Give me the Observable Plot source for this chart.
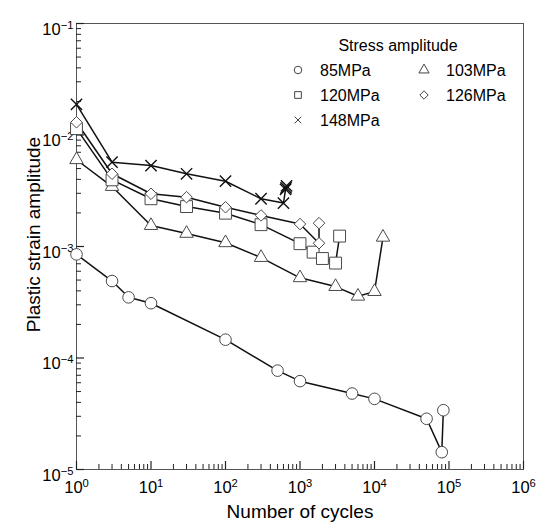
<!DOCTYPE html>
<html>
<head>
<meta charset="utf-8">
<script src="https://cdn.jsdelivr.net/npm/d3@7"></script>
<script src="https://cdn.jsdelivr.net/npm/@observablehq/plot@0.6"></script>
<style>
  html, body { margin: 0; padding: 0; background: #fff; }
  #chart { width: 538px; height: 522px; }
  svg { font-family: "Liberation Sans", Arial, Helvetica, sans-serif; }
</style>
</head>
<body>
<div id="chart"></div>
<script>
// ---- data ----
const cyc85  = [1, 3, 5, 10, 100, 500, 1000, 5000, 10000, 50000, 80000, 84000];
const eps85  = [8.5e-4, 4.9e-4, 3.5e-4, 3.1e-4, 1.46e-4, 7.7e-5, 6.2e-5, 4.8e-5, 4.3e-5, 2.85e-5, 1.43e-5, 3.4e-5];
const cyc103 = [1, 3, 10, 30, 100, 300, 1000, 3000, 6000, 10000, 13000];
const eps103 = [6.0e-3, 3.45e-3, 1.54e-3, 1.31e-3, 1.08e-3, 7.96e-4, 5.24e-4, 4.37e-4, 3.58e-4, 3.94e-4, 1.21e-3];
const cyc120 = [1, 3, 10, 30, 100, 300, 1000, 1500, 2000, 3000, 3400];
const eps120 = [1.14e-2, 3.96e-3, 2.68e-3, 2.28e-3, 1.99e-3, 1.57e-3, 1.06e-3, 8.9e-4, 7.8e-4, 7.1e-4, 1.24e-3];
const cyc126 = [1, 3, 10, 30, 100, 300, 1000, 1800, 1800];
const eps126 = [1.3e-2, 4.49e-3, 2.97e-3, 2.77e-3, 2.25e-3, 1.90e-3, 1.59e-3, 1.07e-3, 1.62e-3];
const cyc148 = [1, 3, 10, 30, 100, 300, 600, 640, 660, 650];
const eps148 = [1.88e-2, 5.7e-3, 5.32e-3, 4.49e-3, 3.85e-3, 2.68e-3, 2.45e-3, 3.25e-3, 3.5e-3, 3.35e-3];

const seriesNames = ["85MPa", "103MPa", "120MPa", "126MPa", "148MPa"];
const xMajor = [1, 10, 100, 1000, 10000, 100000, 1000000];
const yMajor = [1e-5, 1e-4, 1e-3, 1e-2, 1e-1];

const minorOf = (majors) => majors.slice(0, -1).flatMap(m => [2,3,4,5,6,7,8,9].map(k => k * m));
const xMinor = minorOf(xMajor);
const yMinor = minorOf(yMajor);

const toRows = (c, e) => c.map((v, i) => ({c: v, e: e[i]}));
const s85 = toRows(cyc85, eps85), s103 = toRows(cyc103, eps103), s120 = toRows(cyc120, eps120),
      s126 = toRows(cyc126, eps126), s148 = toRows(cyc148, eps148);

const W = 538, H = 522, mT = 23, mR = 15, mB = 53, mL = 76;
const fw = W - mL - mR, fh = H - mT - mB;

const fmt = d => "10^" + Math.round(Math.log10(d));
const lineOpt = {x: "c", y: "e", stroke: "#111", strokeWidth: 1.5};
const dotOpt = {x: "c", y: "e", fill: "white", stroke: "#4a4a4a", strokeWidth: 1};
const tickCol = "#222";

const chart = Plot.plot({
  width: W,
  height: H,
  marginTop: mT,
  marginRight: mR,
  marginBottom: mB,
  marginLeft: mL,
  style: {fontFamily: "Liberation Sans, Arial, sans-serif", background: "white", color: "black"},
  x: {type: "log", domain: [1, 1e6]},
  y: {type: "log", domain: [1e-5, 1e-1]},
  marks: [
    Plot.frame({stroke: "#555", strokeWidth: 1}),
    // inward ticks along the bottom and left edges of the frame
    Plot.tickX(xMinor, {x: d => d, insetTop: fh - 5, stroke: tickCol, strokeWidth: 1}),
    Plot.tickX(xMajor, {x: d => d, insetTop: fh - 8, stroke: tickCol, strokeWidth: 1.2}),
    Plot.tickY(yMinor, {y: d => d, insetRight: fw - 5, stroke: tickCol, strokeWidth: 1}),
    Plot.tickY(yMajor, {y: d => d, insetRight: fw - 8, stroke: tickCol, strokeWidth: 1.2}),
    Plot.axisX(xMajor, {tickSize: 0, tickPadding: 12, tickFormat: fmt, fontSize: 16.5,
      label: "Number of cycles", labelAnchor: "center", labelOffset: 48, labelArrow: "none"}),
    Plot.axisY(yMajor, {tickSize: 0, tickPadding: 3, tickFormat: fmt, fontSize: 16.5, dy: 6,
      label: "Plastic strain amplitude", labelAnchor: "center", labelOffset: 50, labelArrow: "none"}),
    Plot.line(s85, lineOpt),
    Plot.line(s103, lineOpt),
    Plot.line(s120, lineOpt),
    Plot.line(s126, lineOpt),
    Plot.line(s148, lineOpt),
    Plot.dot(s85, {...dotOpt, symbol: "circle", r: 5.8}),
    Plot.dot(s103, {...dotOpt, symbol: "triangle", r: 5}),
    Plot.dot(s120, {...dotOpt, symbol: "square", r: 6.7}),
    Plot.dot(s126, {...dotOpt, symbol: "diamond2", r: 5.2}),
    Plot.dot(s148, {x: "c", y: "e", symbol: "times", r: 5.2, stroke: "#111", strokeWidth: 1.4})
  ]
});

document.getElementById("chart").appendChild(chart);
const svg = d3.select(chart);

// axis label font sizes; nudge the y label up a little as in the reference
svg.selectAll("text").each(function () {
  const t = this.textContent;
  if (t === "Number of cycles") d3.select(this).attr("font-size", 19);
  if (t === "Plastic strain amplitude") {
    const s = d3.select(this).attr("font-size", 19);
    const tr = s.attr("transform") || "";
    s.attr("transform", `translate(0,-12) ${tr}`);
  }
});

// superscript exponents in tick labels
svg.selectAll("text").each(function () {
  const t = this.textContent;
  if (!/^10\^-?\d+$/.test(t)) return;
  const [b, e] = t.split("^");
  const s = d3.select(this);
  s.text(null);
  s.append("tspan").text(b);
  s.append("tspan").attr("dy", "-0.55em").attr("font-size", "0.68em").text(e.replace("-", "\u2212"));
});

// legend (inside the frame, top-right)
const lg = svg.append("g").attr("font-size", 16).attr("fill", "black").attr("text-anchor", "start");
lg.append("text").attr("x", 398).attr("y", 45).attr("text-anchor", "middle").attr("dy", "0.35em").text("Stress amplitude");
const legendItems = [
  {name: seriesNames[0], sym: d3.symbolCircle, x: 298, y: 70},
  {name: seriesNames[1], sym: d3.symbolTriangle, x: 424, y: 70},
  {name: seriesNames[2], sym: d3.symbolSquare, x: 298, y: 95},
  {name: seriesNames[3], sym: d3.symbolDiamond2, x: 424, y: 95},
  {name: seriesNames[4], sym: d3.symbolTimes, x: 298, y: 120}
];
for (const it of legendItems) {
  const g = lg.append("g");
  g.append("path").attr("transform", `translate(${it.x},${it.y})`)
    .attr("d", d3.symbol(it.sym, it.sym === d3.symbolTimes ? 30 : 45)())
    .attr("fill", it.sym === d3.symbolTimes ? "none" : "white")
    .attr("stroke", "#444").attr("stroke-width", 1);
  g.append("text").attr("x", it.x + 22).attr("y", it.y).attr("dy", "0.35em").text(it.name);
}
</script>
</body>
</html>
